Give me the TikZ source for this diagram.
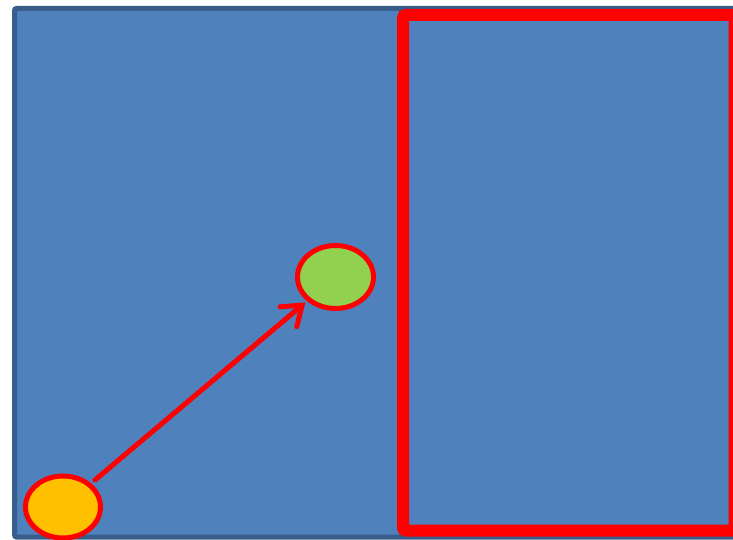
\documentclass[tikz,border=0pt]{standalone}
\usepackage{tikz}
\usetikzlibrary{arrows.meta,positioning,shapes.geometric}
\definecolor{pane}   {HTML}{4F81BD}
\definecolor{paneedge}{HTML}{385D8A}
\definecolor{alarm}  {HTML}{FF0000}
\definecolor{amber}  {HTML}{FFC000}
\definecolor{leaf}   {HTML}{92D050}

\tikzset{
  blob/.style={ellipse, draw=alarm, line width=5pt, inner sep=0pt},
  move/.style={draw=alarm, line width=5pt, line cap=round,
    -{Straight Barb[length=18pt,width=26pt,line cap=round]}}
}

\begin{document}
\begin{tikzpicture}[x=1pt,y=1pt]
        \useasboundingbox (0,0) rectangle (733,539);
        \clip (0,0) rectangle (733,539);
        % background pane and the framed region
        \draw[paneedge, fill=pane, line width=5pt, rounded corners=2pt]
          (14.5,530.5) rectangle (760,2);
        \draw[alarm, fill=pane, line width=12pt, rounded corners=3pt]
          (403,524) rectangle (734.5,8.5);
        % the two spots
        \node[blob, fill=amber, minimum width=75pt, minimum height=62pt]
          (start) at (63,32) {};
        \node[blob, fill=leaf, minimum width=76pt, minimum height=63pt]
          (goal) at (335.5,262) {};
        \draw[move, shorten <=5pt, shorten >=2pt] (start) -- (goal);
      \end{tikzpicture}
\end{document}
